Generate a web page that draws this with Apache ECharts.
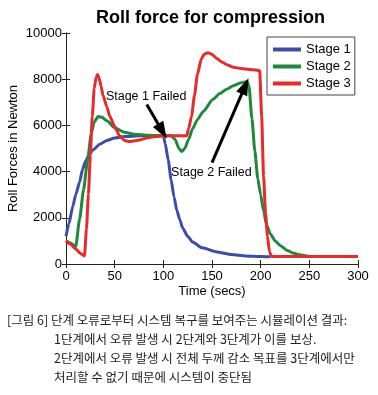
<!DOCTYPE html>
<html>
<head>
<meta charset="utf-8">
<script src="https://cdn.jsdelivr.net/npm/echarts@6/dist/echarts.min.js"></script>
<style>
  html, body { margin: 0; padding: 0; background: #fff; }
  #main { width: 378px; height: 395px; }
</style>
</head>
<body>
<div id="main"></div>
<script>
/* 数据: [时间(s), 轧制力(N)] */
var stage1 = [[0,1200],[3,1750],[7,2500],[10,3000],[14,3550],[17,4100],[20,4450],[24,4750],[28,4950],[35,5200],[42,5350],[50,5450],[60,5520],[75,5550],[90,5560],[100,5550],[102,5200],[105,4500],[108,3650],[111,2900],[114,2300],[117,1900],[120,1550],[125,1200],[130,950],[140,700],[155,520],[170,410],[185,350],[200,320],[210,310]];
var stage2 = [[0,1000],[5,900],[10,750],[14,1950],[18,3200],[22,4450],[26,5650],[29,6150],[33,6380],[37,6350],[42,6200],[50,5900],[60,5700],[70,5620],[85,5570],[100,5550],[108,5550],[112,5400],[116,5000],[119,4870],[122,5000],[126,5400],[130,5850],[135,6250],[141,6600],[151,7130],[158,7380],[165,7570],[172,7720],[180,7850],[186,7900],[188,7700],[191,6300],[194,4900],[197,3700],[200,3000],[203,2300],[206,1700],[210,1300],[215,1000],[220,800],[227,600],[233,480],[240,400],[247,350],[252,330]];
var stage3 = [[0,1000],[5,850],[10,650],[15,450],[19,350],[21,1500],[23,3000],[25,4700],[27,6400],[29,7600],[31,8100],[32.5,8200],[34,8050],[36,7700],[38,7300],[42,6800],[45,6400],[50,5950],[55,5550],[60,5350],[65,5300],[73,5350],[86,5480],[100,5550],[110,5550],[124,5550],[126,5850],[129,6400],[132,7300],[135,8200],[139,8870],[142,9080],[146,9150],[150,9070],[155,8900],[160,8740],[166,8620],[172,8520],[180,8460],[188,8420],[196,8390],[199,8370],[201,6400],[203,3800],[205,2200],[207,1200],[209,550],[211,330],[300,330]];

var seriesNames = ['Stage 1', 'Stage 2', 'Stage 3'];
var seriesColors = ['#3b4cab', '#1b8a3a', '#ea2a2a'];

/* 注释: 箭头起点/终点, 文字位置 */
var arrows = [[[83, 6900], [99, 5750]], [[150, 4390], [184, 7700]]];
var noteTexts = ['Stage 1 Failed', 'Stage 2 Failed'];
var notePos = [[41, 7250], [108, 3950]];

var captionLines = [
  '[그림 6] 단계 오류로부터 시스템 복구를 보여주는 시뮬레이션 결과:',
  '1단계에서 오류 발생 시 2단계와 3단계가 이를 보상.',
  '2단계에서 오류 발생 시 전체 두께 감소 목표를 3단계에서만',
  '처리할 수 없기 때문에 시스템이 중단됨'
];

var chart = echarts.init(document.getElementById('main'));
var font = '"Liberation Sans", Arial, sans-serif';

function lineSeries(name, data, color) {
  return {
    name: name,
    type: 'line',
    data: data,
    symbol: 'none',
    smooth: 0.2,
    smoothMonotone: 'x',
    lineStyle: { color: color, width: 3 },
    itemStyle: { color: color },
    z: 3
  };
}

var series = [
  lineSeries(seriesNames[0], stage1, seriesColors[0]),
  lineSeries(seriesNames[1], stage2, seriesColors[1]),
  lineSeries(seriesNames[2], stage3, seriesColors[2])
];

// 箭头和文字
series.push({
  name: 'notes',
  type: 'line',
  data: [],
  z: 5,
  markLine: {
    silent: true,
    symbol: ['none', 'triangle'],
    symbolSize: [12, 17],
    label: { show: false },
    lineStyle: { color: '#000', width: 3, type: 'solid' },
    data: arrows.map(function (a) {
      return [{ coord: a[0] }, { coord: a[1] }];
    })
  },
  markPoint: {
    silent: true,
    symbol: 'circle',
    symbolSize: 0,
    label: {
      show: true,
      position: 'right',
      distance: 0,
      color: '#000',
      fontSize: 12.5,
      fontFamily: font,
      formatter: function (p) { return p.name; }
    },
    data: notePos.map(function (p, i) {
      return { name: noteTexts[i], coord: p };
    })
  }
});

var option = {
  animation: false,
  backgroundColor: '#fff',
  title: {
    text: 'Roll force for compression',
    left: 91,
    top: 4,
    textStyle: { fontSize: 18, fontWeight: 'bold', color: '#000', fontFamily: font }
  },
  legend: {
    data: seriesNames,
    orient: 'vertical',
    left: 267,
    top: 37,
    padding: [6, 4, 5, 6],
    itemGap: 4,
    itemWidth: 28,
    itemHeight: 4,
    icon: 'rect',
    borderColor: '#444',
    borderWidth: 1,
    borderRadius: 0,
    backgroundColor: '#fff',
    textStyle: { fontSize: 13, color: '#000', fontFamily: font }
  },
  grid: { left: 66, right: 20, top: 33, bottom: 131, outerBoundsMode: 'none' },
  xAxis: [{
    type: 'value',
    min: 0, max: 300, interval: 50,
    name: 'Time (secs)',
    nameLocation: 'middle',
    nameGap: 21,
    nameMoveOverlap: false,
    nameTextStyle: { fontSize: 13, color: '#000', fontFamily: font },
    axisLine: { lineStyle: { color: '#222', width: 1 } },
    axisTick: { inside: true, length: 4, lineStyle: { color: '#222' } },
    axisLabel: { fontSize: 13, color: '#000', margin: 6, fontFamily: font },
    splitLine: { show: false }
  }, {
    type: 'value',
    position: 'top',
    min: 0, max: 300, interval: 50,
    axisLine: { lineStyle: { color: '#222', width: 1 } },
    axisTick: { inside: true, length: 4, lineStyle: { color: '#222' } },
    axisLabel: { show: false },
    splitLine: { show: false }
  }],
  yAxis: [{
    type: 'value',
    min: 0, max: 10000, interval: 2000,
    name: 'Roll Forces in Newton',
    nameLocation: 'middle',
    nameGap: 46,
    nameMoveOverlap: false,
    nameTextStyle: { fontSize: 13, color: '#000', fontFamily: font },
    axisLine: { show: true, lineStyle: { color: '#222', width: 1 } },
    axisTick: { show: true, inside: true, length: 4, lineStyle: { color: '#222' } },
    axisLabel: {
      fontSize: 13, color: '#000', margin: 4, fontFamily: font,
      formatter: function (v) { return String(v); }
    },
    splitLine: { show: false }
  }, {
    type: 'value',
    position: 'right',
    min: 0, max: 10000, interval: 2000,
    axisLine: { show: true, lineStyle: { color: '#222', width: 1 } },
    axisTick: { show: true, inside: true, length: 4, lineStyle: { color: '#222' } },
    axisLabel: { show: false },
    splitLine: { show: false }
  }],
  series: series,
  /* 图注 */
  graphic: captionLines.map(function (t, i) {
    return {
      type: 'text',
      left: i === 0 ? 7 : 54,
      top: 314 + i * 19,
      style: {
        text: t,
        fill: '#222',
        font: '12.5px "Noto Sans CJK KR"'
      }
    };
  })
};

chart.setOption(option);
</script>
</body>
</html>
